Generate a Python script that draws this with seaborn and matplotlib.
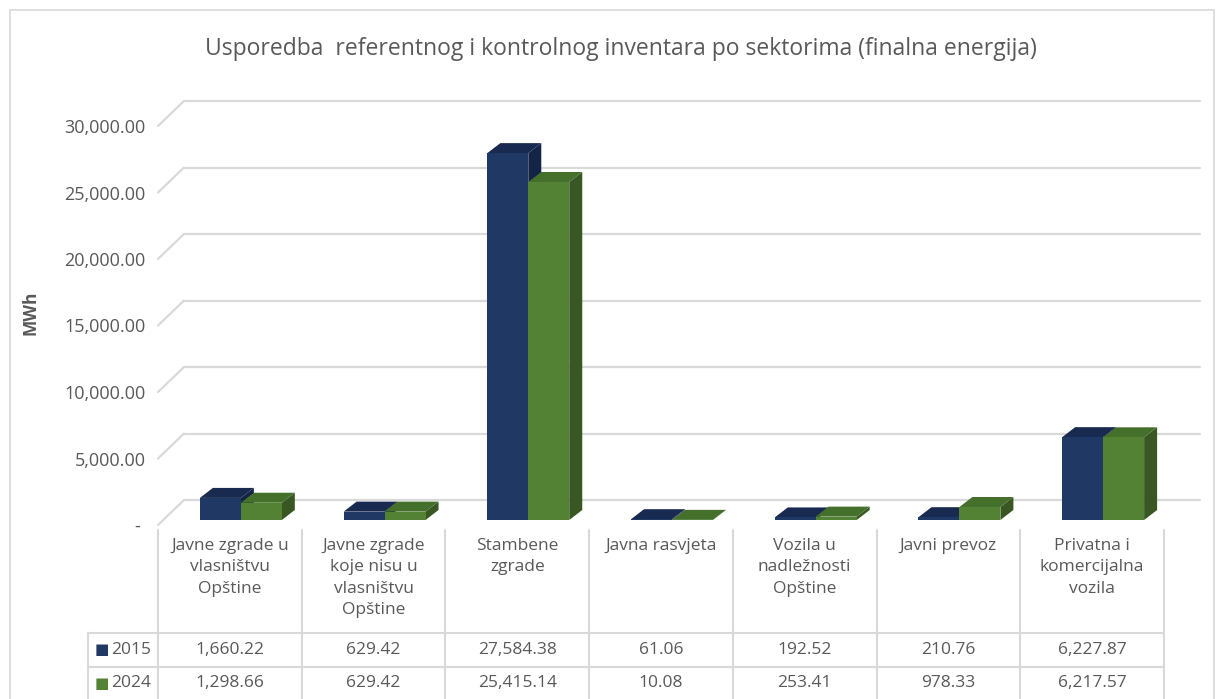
import matplotlib
matplotlib.use("Agg")
import matplotlib.pyplot as plt
import matplotlib.transforms as mtrans
from matplotlib.patches import Polygon
import numpy as np
import pandas as pd
import seaborn as sns

sns.set_style("white")
plt.rcParams['font.family'] = ['Open Sans', 'DejaVu Sans']

# podaci
sektori = ["Javne zgrade u\nvlasništvu\nOpštine",
           "Javne zgrade\nkoje nisu u\nvlasništvu\nOpštine",
           "Stambene\nzgrade",
           "Javna rasvjeta",
           "Vozila u\nnadležnosti\nOpštine",
           "Javni prevoz",
           "Privatna i\nkomercijalna\nvozila"]
godine = ["2015", "2024"]
v2015 = [1660.22, 629.42, 27584.38, 61.06, 192.52, 210.76, 6227.87]
v2024 = [1298.66, 629.42, 25415.14, 10.08, 253.41, 978.33, 6217.57]
yticks = [0, 5000, 10000, 15000, 20000, 25000, 30000]

boje = ["#203864", "#548235"]
boje_vrh = ["#182a50", "#45702c"]
boje_bok = ["#142446", "#385723"]
siva = "#595959"
linija = "#d9d9d9"

W, H = 1223, 699
fig = plt.figure(figsize=(W / 100, H / 100), dpi=100)

def fx(x):
    return x / W

def fy(y):
    return 1 - y / H

# os: prednja ravnina
px_x = 143.7
px_y = 0.0133
ax = fig.add_axes([fx(158), fy(525), 1006 / W, 424 / H])

df = pd.DataFrame({
    "sektor": sektori * 2,
    "godina": [godine[0]] * 7 + [godine[1]] * 7,
    "MWh": v2015 + v2024,
})
sns.barplot(data=df, x="sektor", y="MWh", hue="godina", palette=boje,
            width=0.57, saturation=1, legend=False, ax=ax, edgecolor="none")

# 3D dubina
dxw, dyw = 26 / px_x, 25 / px_y      # zid
ddx, ddy = 13 / px_x, 10 / px_y      # stupac
bx, by = 11 / px_x, 5 / px_y         # pomak stupca

ax.set_xlim(-0.5, 6.5)
ax.set_ylim(0, 30000 + dyw)

# mreza na zadnjem zidu
for v in yticks:
    ax.plot([-0.5 + dxw, 6.5 + dxw + 0.07], [v + dyw, v + dyw], color=linija,
            lw=1.6, zorder=0.5, clip_on=False)
    ax.plot([-0.5, -0.5 + dxw], [v, v + dyw], color=linija, lw=1.6,
            zorder=0.5, clip_on=False)

n = len(sektori)
for k, p in enumerate(ax.patches[:2 * n]):
    s = k // n
    x0 = p.get_x() + bx
    w = p.get_width()
    h = p.get_height()
    p.set_x(x0)
    p.set_y(by)
    x1 = x0 + w
    top = by + h
    z = 3 + s * 0.5
    p.set_zorder(z)
    bok = Polygon([(x1, by), (x1 + ddx, by + ddy), (x1 + ddx, top + ddy), (x1, top)],
                  closed=True, facecolor=boje_bok[s], edgecolor="none", zorder=z - 0.1)
    vrh = Polygon([(x0, top), (x1, top), (x1 + ddx, top + ddy), (x0 + ddx, top + ddy)],
                  closed=True, facecolor=boje_vrh[s], edgecolor="none", zorder=z - 0.1)
    ax.add_patch(bok)
    ax.add_patch(vrh)

ax.set_yticks(yticks)
ax.set_yticklabels(["- "] + [f"{v:,.2f}" for v in yticks[1:]], color=siva, fontsize=13)
ax.tick_params(axis="y", length=0, pad=9)
ax.set_xticks([])
ax.set_xlabel("")
ax.set_ylabel("MWh", color=siva, fontsize=12.5, fontweight="bold", labelpad=18)
for sp in ax.spines.values():
    sp.set_visible(False)
ax.patch.set_alpha(0)

# naslov
fig.text(fx(621), fy(49), "Usporedba  referentnog i kontrolnog inventara po sektorima (finalna energija)",
         ha="center", va="center", color=siva, fontsize=16.5)

# tablica
tr = mtrans.blended_transform_factory(ax.transData, fig.transFigure)
for i in range(n + 1):
    ax.plot([i - 0.5, i - 0.5], [fy(530), fy(H + 5)], transform=tr, color=linija,
            lw=1.5, clip_on=False)
for yl in [633, 667]:
    fig.add_artist(plt.Line2D([fx(88), fx(1164)], [fy(yl), fy(yl)], color=linija, lw=1.5))
fig.add_artist(plt.Line2D([fx(88), fx(88)], [fy(633), fy(H + 5)], color=linija, lw=1.5))

for i, s in enumerate(sektori):
    ax.text(i, fy(538), s, transform=tr, ha="center", va="top", color=siva,
            fontsize=12.5, linespacing=1.45)

for r, (g, vals) in enumerate(zip(godine, [v2015, v2024])):
    yc = fy(650 + r * 33)
    fig.text(fx(95), yc, "■", color=boje[r], fontsize=11, va="center", ha="left",
             family=["DejaVu Sans"])
    fig.text(fx(111), yc, g, color=siva, fontsize=12.5, va="center", ha="left")
    for i, v in enumerate(vals):
        ax.text(i, yc, f"{v:,.2f}", transform=tr, ha="center", va="center",
                color=siva, fontsize=12.5)

# okvir grafikona
for xs, ys in [([10, 10], [10, H + 5]), ([10, 1214], [10, 10]), ([1214, 1214], [10, H + 5])]:
    fig.add_artist(plt.Line2D([fx(x) for x in xs], [fy(y) for y in ys], color=linija, lw=1.2))

fig.savefig("out.png", dpi=100, facecolor="white")
